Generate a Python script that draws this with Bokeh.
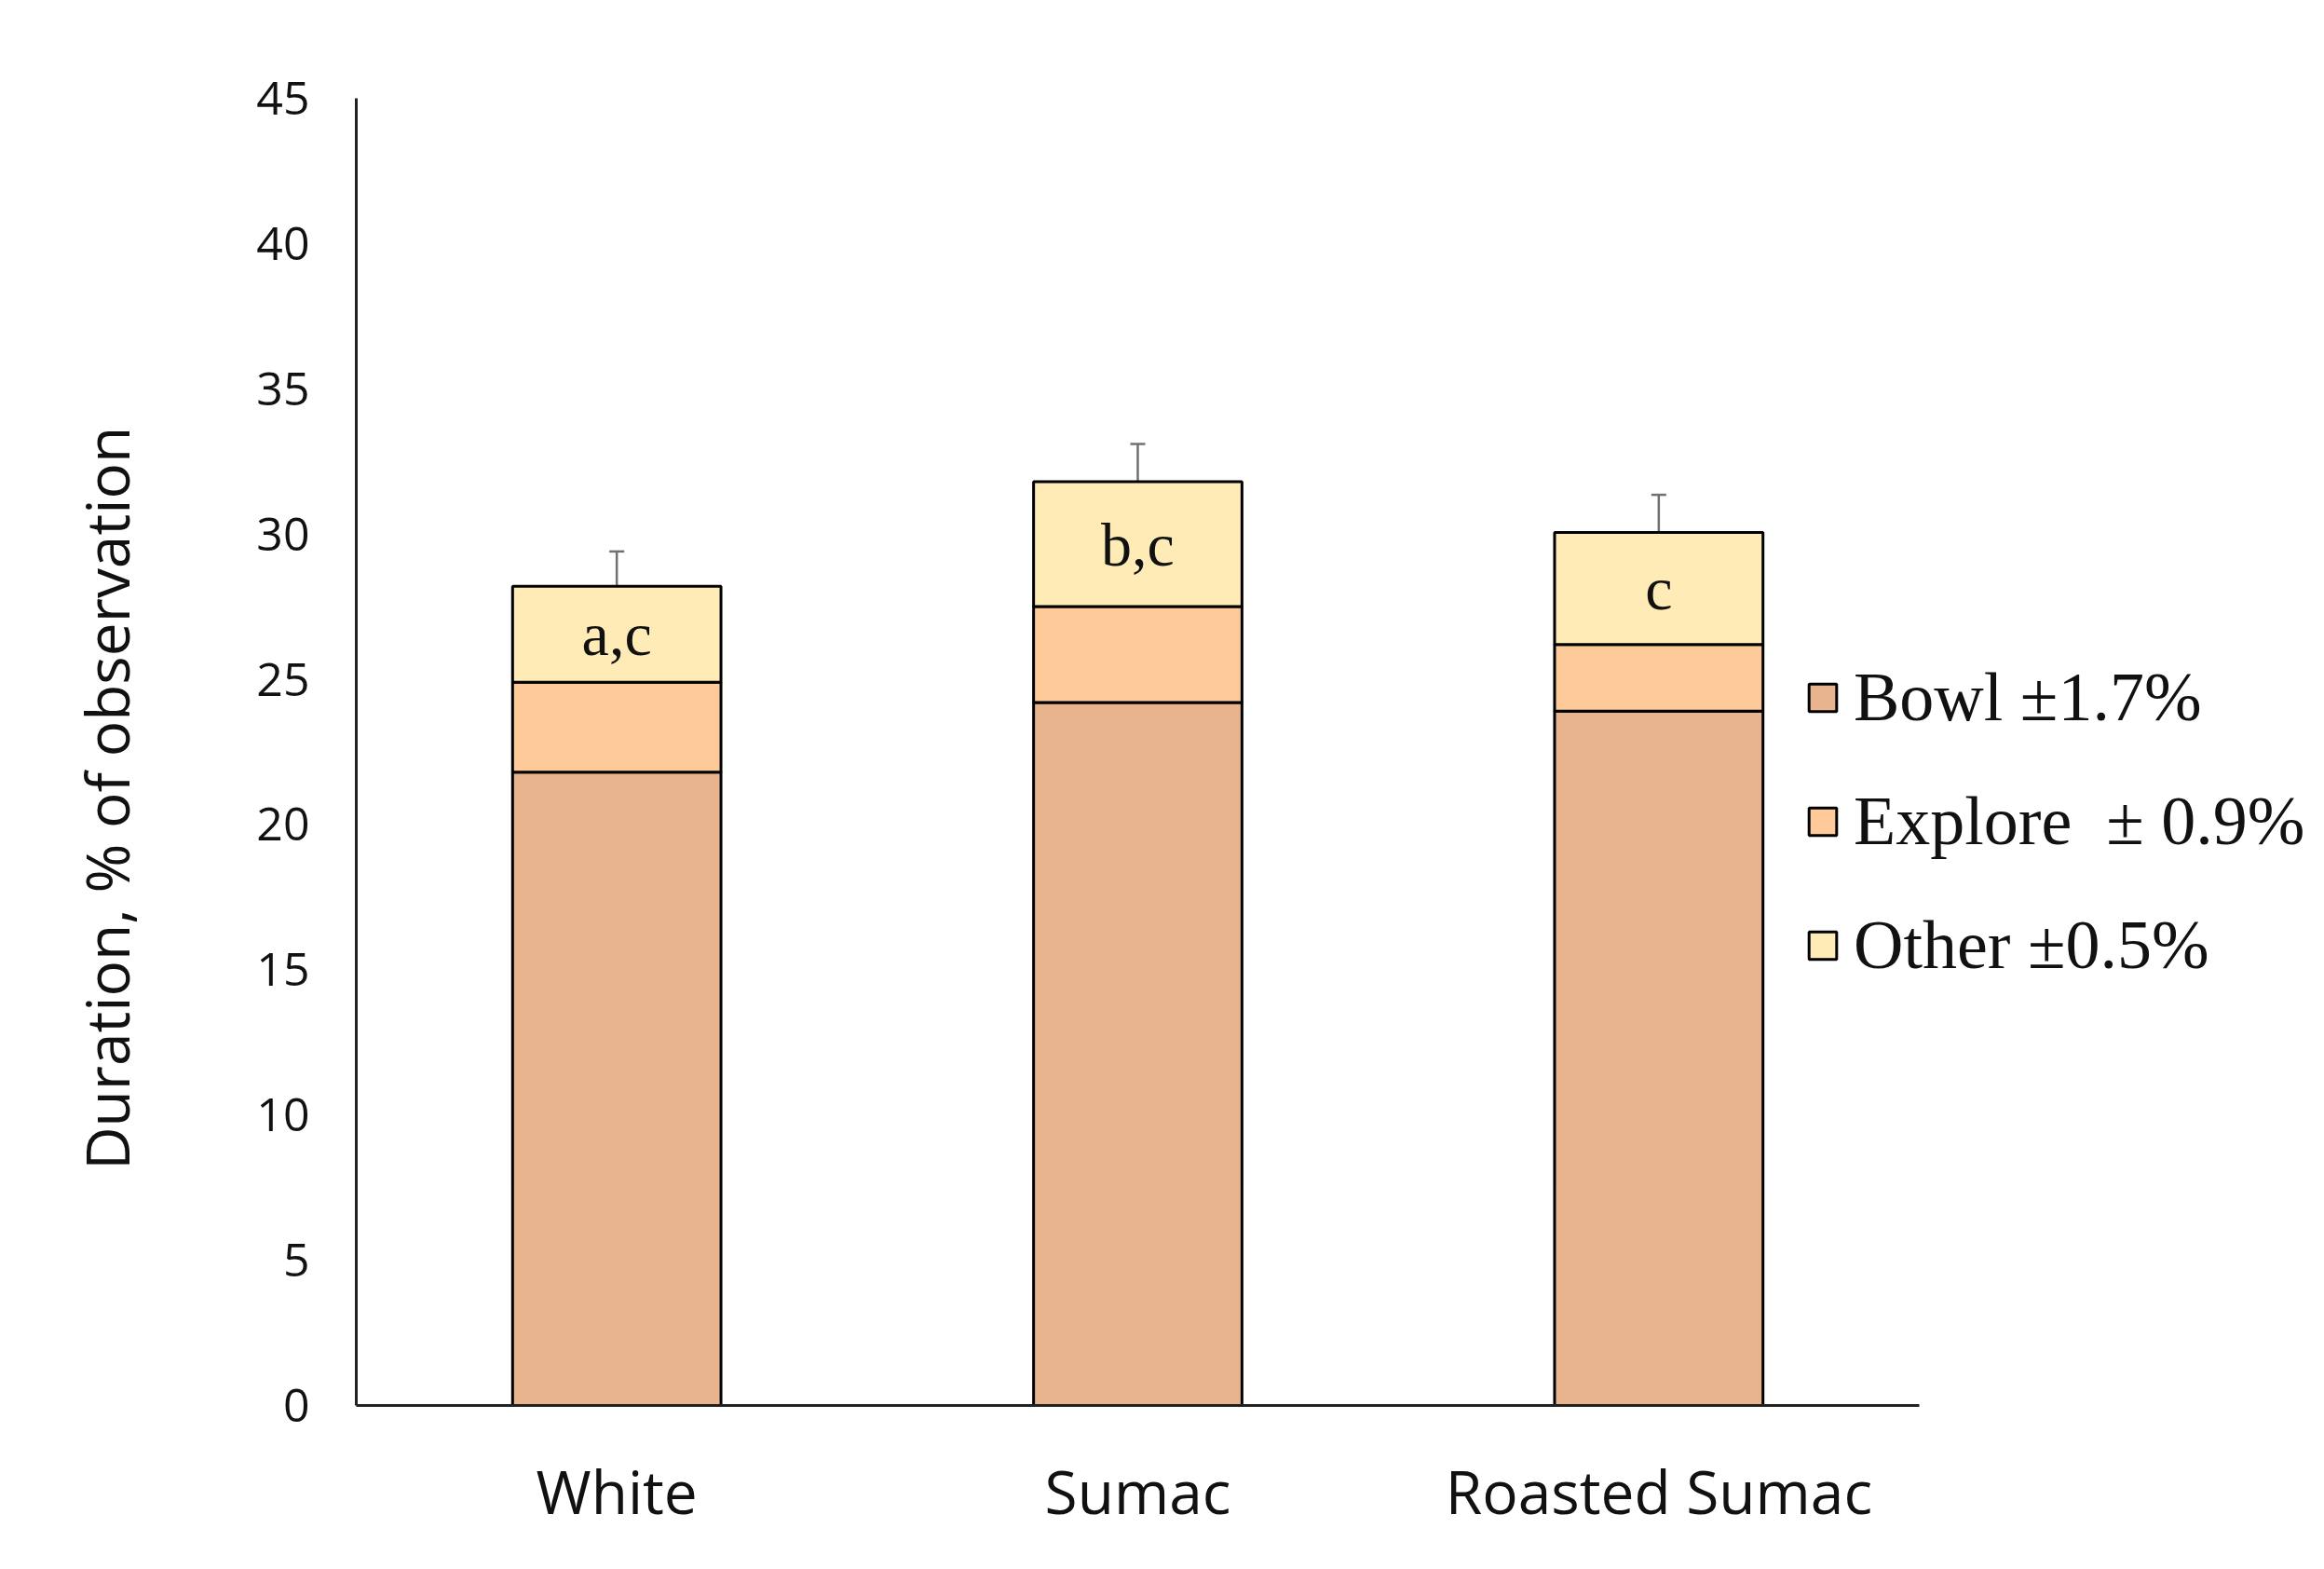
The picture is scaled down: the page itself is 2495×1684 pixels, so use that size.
from bokeh.plotting import figure
from bokeh.models import ColumnDataSource, Whisker, TeeHead, Range1d, FixedTicker
from bokeh.core.properties import value
from bokeh.embed import file_html
from bokeh.resources import INLINE

categories = ["White", "Sumac", "Roasted Sumac"]
bowl = [21.8, 24.2, 23.9]
explore = [3.1, 3.3, 2.3]
other = [3.3, 4.3, 3.85]
err = [1.2, 1.3, 1.3]
letters = ["a,c", "b,c", "c"]
series = ["bowl", "explore", "other"]
legend_labels = ["Bowl \u00b11.7%", "Explore \u00a0\u00b1 0.9%", "Other \u00b10.5%"]
colors = ["#E8B48E", "#FFCA99", "#FFEBB5"]
y_ticks = [0, 5, 10, 15, 20, 25, 30, 35, 40, 45]
y_label = "Duration, % of observation"

xpos = [i + 0.5 for i in range(len(categories))]
total = [b + e + o for b, e, o in zip(bowl, explore, other)]
upper = [t + s for t, s in zip(total, err)]
letter_y = [b + e + o / 2 for b, e, o in zip(bowl, explore, other)]

src = ColumnDataSource(dict(x=xpos, bowl=bowl, explore=explore, other=other,
                            total=total, upper=upper, letter_y=letter_y, letters=letters))

W, H = 2487, 1668
left, right_pad, top, bottom = 382, 0, 105, 160
axis_px = 1678  # width of the category axis in pixels
frame_w = W - left - right_pad
xmax = len(categories) * frame_w / axis_px

p = figure(x_range=Range1d(0, xmax), y_range=Range1d(0, 45), width=W, height=H,
           output_backend="svg", toolbar_location=None,
           min_border_left=left, min_border_right=right_pad, min_border_top=top,
           min_border_bottom=bottom)
p.outline_line_color = None
p.xgrid.grid_line_color = None
p.ygrid.grid_line_color = None

p.vbar_stack(series, x="x", width=0.4, color=colors, line_color="black", line_width=3,
             source=src, legend_label=legend_labels)

wh = Whisker(base="x", lower="total", upper="upper", source=src, dimension="height",
             line_color="#707070", line_width=2.5, lower_head=None,
             upper_head=TeeHead(size=16, line_color="#707070", line_width=2.5))
p.add_layout(wh)

p.text(x="x", y="letter_y", text="letters", source=src, text_align="center",
       text_baseline="middle", text_font=value("Liberation Serif"), text_font_size="66px",
       text_color="#111111")

# axes
p.yaxis.ticker = FixedTicker(ticks=y_ticks)
p.yaxis.major_tick_line_color = None
p.yaxis.minor_tick_line_color = None
p.yaxis.axis_line_color = "#222222"
p.yaxis.axis_line_width = 3
p.yaxis.major_label_text_font = "Open Sans"
p.yaxis.major_label_text_font_size = "50px"
p.yaxis.major_label_text_color = "#111111"
p.yaxis.major_label_standoff = 44
# trailing no-break spaces shift the label down, as in the original
p.yaxis.axis_label = y_label + "\u00a0" * 6
p.yaxis.axis_label_text_font = "Open Sans"
p.yaxis.axis_label_text_font_size = "64px"
p.yaxis.axis_label_text_font_style = "normal"
p.yaxis.axis_label_text_color = "#111111"
p.yaxis.axis_label_standoff = 114

p.xaxis.ticker = FixedTicker(ticks=xpos)
p.xaxis.major_label_overrides = {x: c for x, c in zip(xpos, categories)}
p.xaxis.bounds = (0, len(categories))
p.xaxis.major_tick_line_color = None
p.xaxis.minor_tick_line_color = None
p.xaxis.axis_line_color = "#222222"
p.xaxis.axis_line_width = 3
p.xaxis.major_label_text_font = "Open Sans"
p.xaxis.major_label_text_font_size = "64px"
p.xaxis.major_label_text_color = "#111111"
p.xaxis.major_label_standoff = 42

lg = p.legend[0]
lg.location = (1556, 451)
lg.border_line_alpha = 0
lg.background_fill_alpha = 0
lg.padding = 0
lg.margin = 0
lg.glyph_width = 37
lg.glyph_height = 37
lg.label_height = 80
lg.spacing = 48
lg.label_standoff = 15
lg.label_text_font = "Liberation Serif"
lg.label_text_font_size = "74px"
lg.label_text_color = "#111111"

open("out.html", "w").write(file_html(p, INLINE))
